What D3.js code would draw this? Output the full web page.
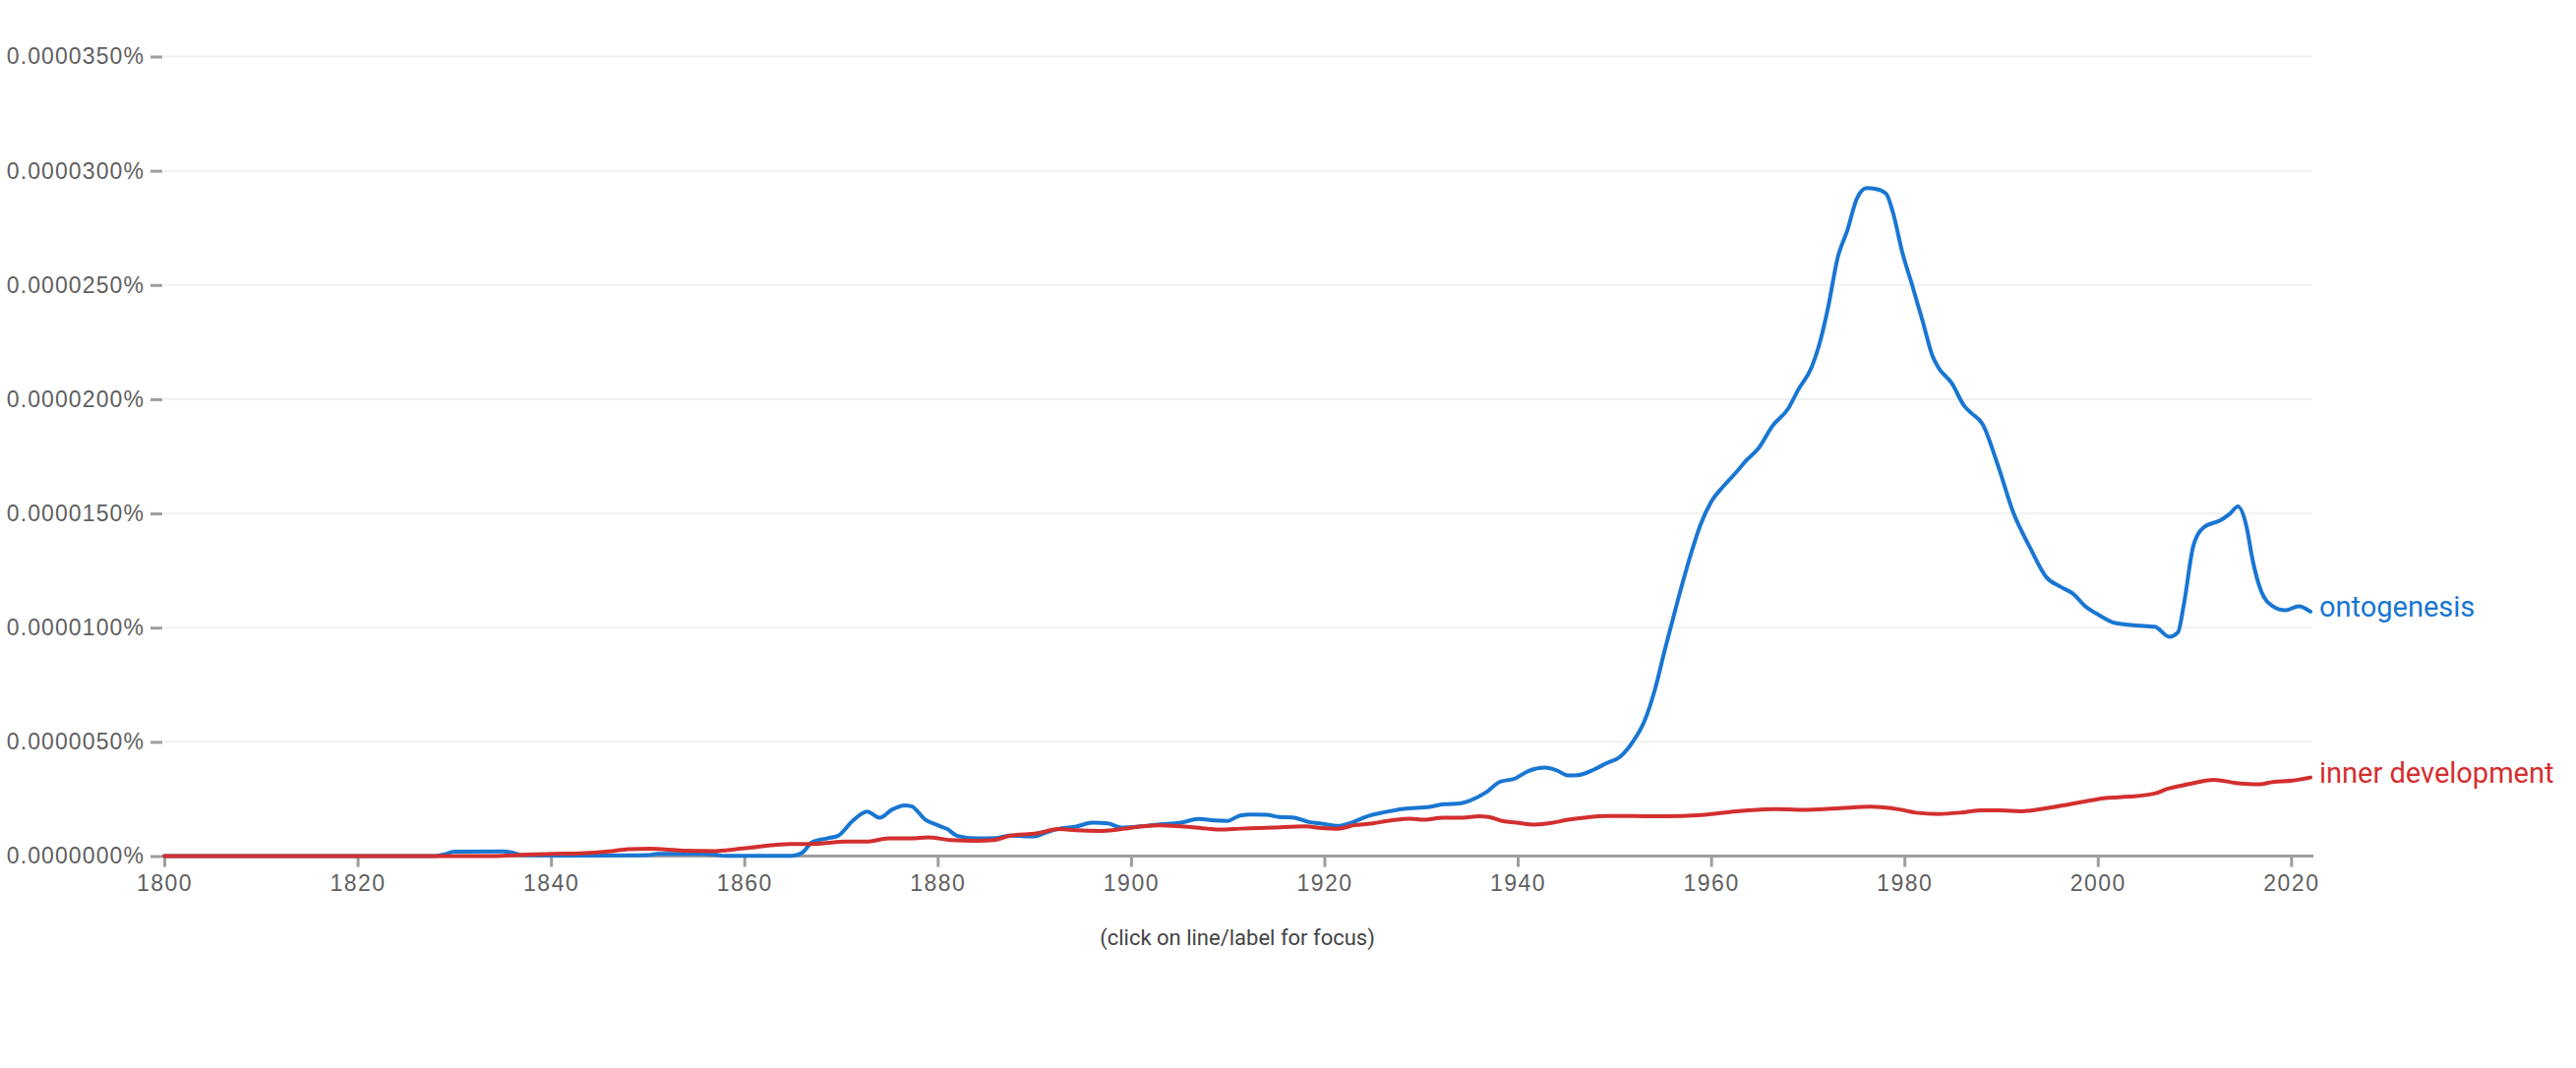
<!DOCTYPE html>
<html>
<head>
<meta charset="utf-8">
<script src="https://cdn.jsdelivr.net/npm/d3@7"></script>
<style>
  html, body { margin: 0; padding: 0; background: #fff; }
  svg { display: block; font-family: Roboto, "Noto Sans", sans-serif; }
</style>
</head>
<body>
<svg id="chart" width="2619" height="1086"></svg>
<script>
// values are in units of 0.0000001 %
const ontoYears = [1800, 1828, 1829, 1830, 1835, 1836, 1837, 1840, 1848, 1850, 1851, 1855, 1857, 1858, 1865,
  1866, 1867, 1868.5, 1869.7, 1871.2, 1872.7, 1874, 1875.3, 1876.6, 1877.3, 1878.7, 1880, 1881, 1882, 1884,
  1886, 1887.5, 1890, 1891, 1892.6, 1894.3, 1896, 1897.6, 1899, 1901, 1903, 1905, 1907, 1908.6, 1910,
  1911.3, 1912.6, 1914, 1915.3, 1916.7, 1918.4, 1919.7, 1921.4, 1922.8, 1924.5, 1926.2, 1928.2, 1930.9, 1932.3,
  1934, 1935, 1936.7, 1938.1, 1939.7, 1941.1, 1942.8, 1944.1, 1945.2, 1946.2, 1947.9, 1949.2, 1950.6, 1951.9,
  1953.1, 1954.2, 1955.2, 1956.5, 1957.9, 1958.9, 1960, 1961.3, 1962.6, 1963.6, 1965, 1966.3, 1968, 1969,
  1970.4, 1971.2, 1972.1, 1973.1, 1974.1, 1975.1, 1976.1, 1977.1, 1978.1, 1978.8, 1979.8, 1980.8, 1981.9, 1982.9,
  1983.5, 1984.9, 1986.2, 1986.9, 1988.1, 1989.6, 1991.3, 1993, 1994.7, 1996.1, 1997.4, 1998.8, 2000.1, 2001.8,
  2003.9, 2005.9, 2007.4, 2008.3, 2008.9, 2009.9, 2011, 2012.7, 2013.7, 2014.5, 2015.4, 2016, 2016.9, 2018.1,
  2019.4, 2020.8, 2022];
const ontoValues = [0, 0, 0.8, 1.9, 2.0, 1.5, 0.4, 0.2, 0.3, 0.4, 1.0, 1.0, 0.6, 0.1, 0.1,
  1.5, 6.0, 7.7, 8.9, 15.4, 19.5, 16.8, 20.4, 22.2, 21.8, 16, 13.5, 11.8, 8.9, 7.7,
  7.9, 8.9, 8.6, 10, 12, 12.9, 14.6, 14.3, 12.5, 13, 13.9, 14.5, 16.2, 15.6, 15.4,
  17.8, 18.2, 18.1, 17.1, 16.9, 14.9, 14.2, 13.2, 14.6, 17.5, 19.2, 20.7, 21.5, 22.7,
  23, 24.2, 27.8, 32.4, 33.9, 37.2, 38.7, 37.4, 35.3, 35.4, 37.9, 40.7, 43.5, 50,
  59, 73, 90, 111, 132, 145, 155, 162, 168, 173, 179, 188, 196, 204,
  214, 224, 240, 262, 274, 288, 292.4, 292, 290, 282, 264, 250, 234, 219,
  214, 207, 197, 194, 189, 172, 150, 135, 122, 118, 115, 109, 105.6, 102,
  101, 100.4, 96, 98, 110, 136, 144, 147, 150, 153, 144, 130, 116, 109.4,
  107.6, 109.4, 107];

const innerYears = [1800, 1834, 1836, 1840, 1843, 1846, 1848, 1850.2, 1853.6, 1857, 1859, 1860.4, 1864.8, 1867,
  1870.5, 1872.6, 1874.9, 1877.3, 1879, 1881.4, 1884, 1885.8, 1887.5, 1890.2, 1892.6, 1894.3, 1897, 1899.4,
  1901.1, 1903, 1905.2, 1907.9, 1909.2, 1911.3, 1914.7, 1918, 1919.7, 1921.4, 1923.1, 1924.8, 1926.9, 1928.9,
  1930.3, 1932.3, 1934.3, 1936, 1937, 1938.4, 1940.1, 1941.8, 1943.5, 1945.2, 1946.9, 1949.2, 1952, 1955,
  1959, 1962.6, 1966.7, 1969.4, 1973.4, 1976.5, 1979.5, 1981.2, 1983.5, 1986.2, 1988, 1990, 1992, 1995.4,
  1998.8, 2000.8, 2003.2, 2005.9, 2007.2, 2009.3, 2012, 2014.3, 2016.7, 2018.1, 2020.1, 2022];
const innerValues = [0, 0, 0.3, 1, 1.2, 2, 3, 3.2, 2.4, 2.2, 2.9, 3.6, 5.3, 5.3,
  6.3, 6.3, 7.7, 7.7, 8.2, 7.0, 6.7, 7.0, 8.9, 9.9, 11.8, 11.3, 11, 12,
  13, 13.5, 13, 12, 11.6, 12, 12.5, 13, 12.3, 12, 13.5, 14.2, 15.6, 16.4,
  15.9, 16.8, 16.8, 17.4, 17.1, 15.4, 14.5, 13.8, 14.5, 15.9, 16.8, 17.5, 17.5, 17.4,
  18, 19.6, 20.6, 20.2, 21, 21.6, 20.4, 19, 18.4, 19.2, 20, 20, 19.6, 21.4,
  24, 25.4, 26, 27.4, 29.4, 31.4, 33.4, 32, 31.4, 32.4, 33, 34.4];

const seriesNames = ["ontogenesis", "inner development"];
const seriesColors = ["#1976d2", "#d32f2f"];
const yTicks = [0, 50, 100, 150, 200, 250, 300, 350];
const xTicks = [1800, 1820, 1840, 1860, 1880, 1900, 1920, 1940, 1960, 1980, 2000, 2020];

const series = [
  { name: seriesNames[0], color: seriesColors[0], pts: ontoYears.map((yr, i) => ({ year: yr, v: ontoValues[i] })) },
  { name: seriesNames[1], color: seriesColors[1], pts: innerYears.map((yr, i) => ({ year: yr, v: innerValues[i] })) }
];

const svg = d3.select("#chart");
const plotLeft = 167, plotRight = 2349, plotTop = 57.5, plotBottom = 870.5;

const x = d3.scaleLinear().domain([1800, 2022]).range([plotLeft, plotRight]);
const y = d3.scaleLinear().domain([0, 350]).range([plotBottom, plotTop]);

// grid
svg.append("g")
  .selectAll("line")
  .data(yTicks.filter(d => d > 0))
  .enter().append("line")
    .attr("x1", plotLeft).attr("x2", plotRight + 2)
    .attr("y1", d => y(d)).attr("y2", d => y(d))
    .attr("stroke", "#f1f1f1")
    .attr("stroke-width", 2);

// y axis
const yAxis = svg.append("g")
  .attr("transform", `translate(${plotLeft - 2},0)`)
  .call(d3.axisLeft(y).tickValues(yTicks).tickSize(12).tickPadding(6)
    .tickFormat(d => (d * 1e-7).toFixed(7) + "%"));
yAxis.select(".domain").remove();
yAxis.selectAll(".tick line").attr("stroke", "#9e9e9e").attr("stroke-width", 3);
yAxis.selectAll(".tick text")
  .attr("fill", "#5f5f5f")
  .style("font-size", "23px")
  .style("letter-spacing", "1.1px");

// x axis
const xAxis = svg.append("g")
  .attr("transform", `translate(0,${plotBottom})`)
  .call(d3.axisBottom(x).tickValues(xTicks).tickSize(11).tickPadding(8).tickFormat(d3.format("d")));
xAxis.select(".domain")
  .attr("d", `M${plotLeft - 2},0H${plotRight + 3}`)
  .attr("stroke", "#9e9e9e").attr("stroke-width", 3);
xAxis.selectAll(".tick line").attr("stroke", "#9e9e9e").attr("stroke-width", 3);
xAxis.selectAll(".tick text")
  .attr("fill", "#5f5f5f")
  .style("font-size", "23px")
  .style("letter-spacing", "1.5px");

// lines
const line = d3.line()
  .x(d => x(d.year))
  .y(d => y(d.v))
  .curve(d3.curveMonotoneX);

svg.append("g")
  .selectAll("path")
  .data(series)
  .enter().append("path")
    .attr("d", d => line(d.pts))
    .attr("fill", "none")
    .attr("stroke", d => d.color)
    .attr("stroke-width", 4)
    .attr("stroke-linejoin", "round")
    .attr("stroke-linecap", "round");

// series labels
svg.append("g")
  .selectAll("text")
  .data(series)
  .enter().append("text")
    .attr("x", plotRight + 9)
    .attr("y", d => y(d.pts[d.pts.length - 1].v) + 5)
    .attr("fill", d => d.color)
    .style("font-size", "29px")
    .text(d => d.name);

// note
svg.append("text")
  .attr("x", (plotLeft + plotRight) / 2)
  .attr("y", 961)
  .attr("text-anchor", "middle")
  .attr("fill", "#444")
  .style("font-size", "22px")
  .text("(click on line/label for focus)");
</script>
</body>
</html>
